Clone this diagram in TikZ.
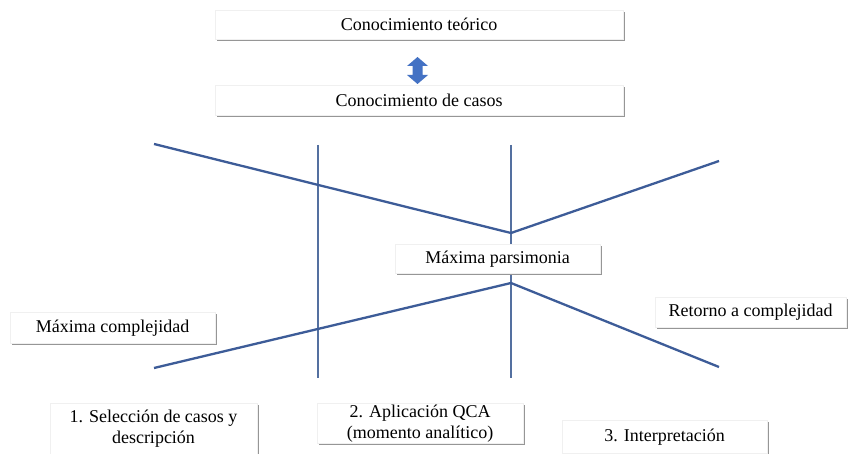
\documentclass[tikz,border=0pt]{standalone}
\usepackage{fontspec}
\setmainfont{Liberation Serif}
\definecolor{linec}{RGB}{61,92,152}
\definecolor{vlinec}{RGB}{84,112,160}
\definecolor{arrowc}{RGB}{68,114,196}
\definecolor{shadowc}{RGB}{150,150,150}
\tikzset{
  diag/.style={draw=linec, line width=2.3pt},
  vline/.style={draw=vlinec, line width=1.3pt},
  txtbox/.style={draw=gray!12, fill=white, inner sep=0pt, align=center,
    font=\fontsize{18}{21}\selectfont,
    append after command={}},
}
\newcommand{\shbox}[6]{% name, left, top, right, bottom, text
  \fill[shadowc] (#2+2,#3+2) rectangle (#4+2,#5+2);
  \node[txtbox, minimum width=#4-#2, minimum height=#5-#3, anchor=north west] (#1) at (#2,#3) {};
  \node[font=\fontsize{18}{21}\selectfont, align=center, inner sep=0pt] (#1-t) at (#1.center) {#6};
}
\begin{document}
\begin{tikzpicture}[x=1pt, y=-1pt]
\useasboundingbox (0,0) rectangle (848,454);
\fill[white] (0,0) rectangle (848,454);
% coordinates for lines
\coordinate (a1) at (154,144);
\coordinate (v) at (511,233);
\coordinate (a2) at (719,161);
\coordinate (b1) at (154,368);
\coordinate (p) at (511,283);
\coordinate (b2) at (719,367);
\coordinate (l1t) at (318,145);
\coordinate (l1b) at (318,378);
\coordinate (l2t) at (511,145);
\coordinate (l2b) at (511,378);
\draw[vline] (l1t) -- (l1b);
\draw[vline] (l2t) -- (l2b);
\draw[diag, line join=miter] (a1) -- (v) -- (a2);
\draw[diag, line join=miter] (b1) -- (p) -- (b2);
% boxes
\shbox{teo}{215}{10}{623}{39}{Conocimiento teórico}
\shbox{cas}{215}{85}{623}{115}{Conocimiento de casos}
\shbox{par}{395}{244}{600}{273}{Máxima parsimonia}
\shbox{com}{10}{312}{215}{343}{Máxima complejidad}
\shbox{ret}{655}{297}{846}{327}{Retorno a complejidad}
\shbox{sel}{50}{403}{257}{462}{}
\node[font=\fontsize{18}{21}\selectfont, align=center, inner sep=0pt] (selt) at (153.5,429) {1. Selección de casos y\\descripción};
\shbox{qca}{317}{403}{523}{443}{2. Aplicación QCA\\(momento analítico)}
\shbox{int}{562}{420}{767}{453}{3. Interpretación}
% double arrow
\fill[arrowc] (417.5,57) -- (428,66) -- (422.5,66) -- (422.5,75) -- (428,75) -- (417.5,84)
  -- (407,75) -- (412.5,75) -- (412.5,66) -- (407,66) -- cycle;
\end{tikzpicture}
\end{document}
